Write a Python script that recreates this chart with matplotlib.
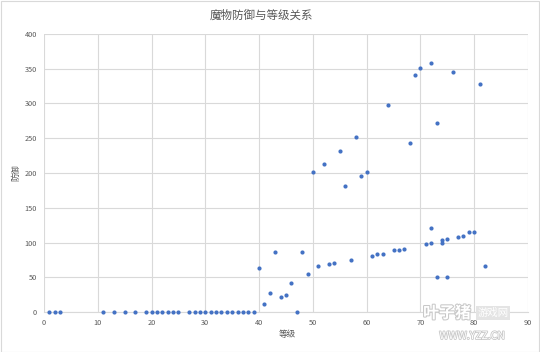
import matplotlib
matplotlib.use("Agg")
import matplotlib.pyplot as plt
from matplotlib.patches import Rectangle
import matplotlib.patheffects as pe

plt.rcParams['font.family'] = ['Noto Sans CJK SC', 'DejaVu Sans']

title = "魔物防御与等级关系"
xlabel = "等级"
ylabel = "防御"

level = [1, 2, 3, 11, 13, 15, 17, 19, 20, 21, 22, 23, 24, 25,
         27, 28, 29, 30, 31, 32, 33, 34, 35, 36, 37, 38, 39,
         40, 41, 42, 43, 44, 45, 46, 47, 48, 49, 50, 51, 52, 53, 54,
         55, 56, 57, 58, 59, 60, 61, 62, 63, 64, 65, 66, 67, 68, 69, 70,
         71, 72, 72, 72, 73, 73, 74, 74, 75, 75, 76, 77, 78, 79, 80, 81, 82]
defense = [0, 0, 0, 0, 0, 0, 0, 0, 0, 0, 0, 0, 0, 0,
           0, 0, 0, 0, 0, 0, 0, 0, 0, 0, 0, 0, 0,
           63, 11, 27, 86, 22, 24, 42, 0, 86, 54, 201, 66, 213, 69, 71,
           232, 181, 75, 252, 196, 201, 81, 83, 84, 298, 89, 89, 91, 243, 341, 351,
           98, 99, 358, 121, 272, 50, 100, 104, 105, 50, 346, 108, 110, 115, 115, 328, 66]

xticks = list(range(0, 91, 10))
yticks = list(range(0, 401, 50))

text_color = "#595959"
grid_color = "#D9D9D9"
marker_color = "#4472C4"

fig = plt.figure(figsize=(5.4, 3.52), dpi=100)
fig.patch.set_facecolor("white")
fig.patches.append(Rectangle((0.001, 0.001), 0.997, 0.996, transform=fig.transFigure,
                             fill=False, edgecolor=grid_color, linewidth=0.8))

ax = fig.add_axes([44/540, 1-312/352, 484/540, 278/352])
ax.scatter(level, defense, s=9, color=marker_color, linewidths=0, zorder=3, clip_on=False)

ax.set_xlim(0, 90)
ax.set_ylim(0, 400)
ax.set_xticks(xticks)
ax.set_yticks(yticks)
ax.grid(True, color=grid_color, linewidth=0.8)
ax.set_axisbelow(True)
for s in ["top", "right", "left"]:
    ax.spines[s].set_visible(False)
ax.spines["bottom"].set_color(grid_color)
ax.spines["bottom"].set_linewidth(0.8)
ax.tick_params(axis="both", length=0, labelsize=5.3, colors=text_color)
ax.tick_params(axis="y", pad=5)
ax.tick_params(axis="x", pad=5)

fig.text(0.485, 1-15/352, title, ha="center", va="center", fontsize=8.3, color=text_color)
fig.text(287/540, 1-335/352, xlabel, ha="center", va="center", fontsize=6.2, color=text_color)
fig.text(16/540, 1-173/352, ylabel, ha="center", va="center", fontsize=6.0, color=text_color, rotation=90)

# watermark
fig.text(447/540, 1-313/352, "叶子猪", ha="center", va="center", fontsize=11.5, color="white",
         fontweight="bold", path_effects=[pe.withStroke(linewidth=1.5, foreground="#C8C8C8")], zorder=10)
fig.text(493/540, 1-313/352, "游戏网", ha="center", va="center", fontsize=7.5, color="white",
         bbox=dict(boxstyle="square,pad=0.15", facecolor="#E4E4E4", edgecolor="none"), zorder=10)
fig.text(472/540, 1-336/352, "WWW.YZZ.CN", ha="center", va="center", fontsize=7.5, color="white",
         path_effects=[pe.withStroke(linewidth=1.2, foreground="#C8C8C8")], zorder=10)

fig.savefig("out.png", dpi=100)
